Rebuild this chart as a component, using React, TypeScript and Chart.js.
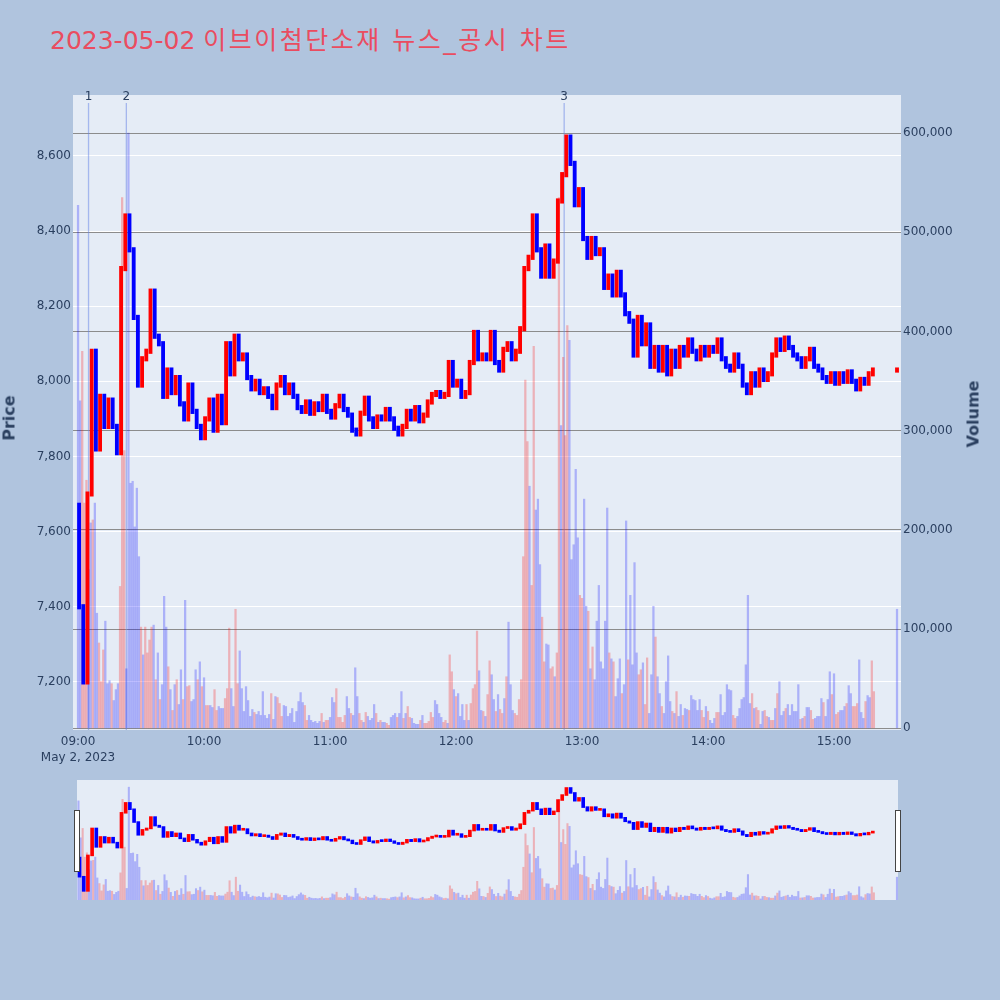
import { useEffect, useRef } from 'react'
import { Chart, registerables } from 'chart.js'

Chart.register(...registerables)

const TITLE_DATE = '2023-05-02'
const TITLE_TEXT = '이브이첨단소재 뉴스_공시 차트'
const FONT = "'DejaVu Sans', 'Noto Sans CJK KR', sans-serif"
const TEXT_COLOR = '#2a3f5f'
const UP = '#ff0000'
const DOWN = '#0000ff'

// x values are minutes after 09:00
const timeTicks = [0, 60, 120, 180, 240, 300, 360]
const timeLabels = ['09:00', '10:00', '11:00', '12:00', '13:00', '14:00', '15:00']
const dateLabel = 'May 2, 2023'
const priceTicks = [7200, 7400, 7600, 7800, 8000, 8200, 8400, 8600]
const volumeTicks = [0, 100000, 200000, 300000, 400000, 500000, 600000]

// news / disclosure markers
const newsMinutes = [5, 23, 231.5]
const newsLabels = ['1', '2', '3']

// price, one value per 2 minutes (close), starting from the first open
const firstOpen = 7670
const closes = [
  7400, 7200, 7700, 8080, 7820, 7960, 7880, 7950, 7880, 7810,
  8300, 8440, 8350, 8170, 7990, 8060, 8080, 8240, 8120, 8100,
  7960, 8030, 7970, 8010, 7940, 7900, 7990, 7920, 7880, 7850,
  7900, 7950, 7870, 7960, 7890, 8100, 8020, 8120, 8060, 8070,
  8010, 7980, 8000, 7970, 7980, 7960, 7930, 7990, 8010, 7970,
  7990, 7960, 7930, 7920, 7945, 7915, 7940, 7925, 7960, 7920,
  7905, 7935, 7960, 7925, 7910, 7870, 7860, 7915, 7955, 7900,
  7880, 7905, 7900, 7925, 7900, 7875, 7860, 7880, 7920, 7900,
  7930, 7895, 7910, 7945, 7965, 7970, 7960, 7965, 8050, 7990,
  8000, 7960, 7970, 8050, 8130, 8060, 8070, 8060, 8130, 8050,
  8030, 8085, 8100, 8060, 8080, 8140, 8300, 8330, 8440, 8350,
  8280, 8360, 8280, 8320, 8480, 8550, 8650, 8580, 8470, 8510,
  8380, 8330, 8380, 8340, 8350, 8250, 8280, 8230, 8290, 8230,
  8180, 8160, 8070, 8170, 8100, 8150, 8040, 8090, 8030, 8090,
  8020, 8080, 8040, 8090, 8070, 8110, 8080, 8060, 8090, 8070,
  8090, 8080, 8110, 8060, 8040, 8030, 8070, 8040, 7990, 7970,
  8020, 7990, 8030, 8005, 8020, 8070, 8110, 8085, 8115, 8090,
  8070, 8060, 8040, 8060, 8085, 8040, 8030, 8010, 8000, 8020,
  7995, 8020, 8000, 8025, 8000, 7980, 8005, 7995, 8020, 8030,
]
const auctionMinute = 390
const auctionPrice = 8030

// volume per minute, in thousands of shares
const volumesK = [
  527, 330, 380, 227, 250, 160, 207, 210, 227, 116,
  86, 47, 79, 108, 45, 48, 45, 28, 39, 45,
  143, 535, 280, 60, 600, 247, 249, 203, 242, 173,
  102, 74, 102, 76, 89, 102, 104, 49, 76, 29,
  44, 133, 102, 62, 39, 18, 44, 49, 24, 59,
  29, 129, 42, 43, 27, 29, 59, 49, 67, 42,
  51, 23, 23, 23, 21, 39, 18, 22, 20, 20,
  30, 40, 101, 40, 22, 120, 45, 78, 40, 17,
  42, 28, 12, 19, 16, 14, 17, 13, 37, 13,
  10, 14, 35, 9, 32, 31, 25, 12, 23, 22,
  12, 15, 20, 6, 17, 27, 36, 26, 23, 8,
  13, 8, 6, 7, 5, 7, 15, 6, 8, 8,
  11, 31, 26, 40, 11, 11, 6, 13, 32, 20,
  15, 13, 61, 32, 15, 8, 6, 16, 12, 8,
  10, 24, 15, 6, 8, 6, 6, 5, 3, 11,
  13, 15, 11, 15, 37, 10, 15, 22, 11, 10,
  5, 4, 4, 8, 13, 5, 5, 7, 16, 11,
  28, 24, 15, 11, 6, 8, 5, 74, 57, 39,
  32, 35, 12, 24, 8, 24, 8, 25, 40, 44,
  98, 58, 18, 17, 12, 34, 68, 54, 29, 17,
  34, 19, 15, 30, 52, 107, 44, 18, 15, 13,
  29, 49, 173, 351, 289, 244, 144, 385, 220, 231,
  165, 112, 67, 85, 84, 60, 62, 52, 76, 535,
  305, 374, 295, 406, 391, 170, 185, 261, 192, 134,
  131, 231, 123, 118, 60, 82, 49, 108, 144, 67,
  60, 108, 222, 76, 70, 67, 32, 50, 70, 35,
  44, 209, 69, 134, 64, 167, 76, 54, 59, 66,
  24, 71, 15, 54, 123, 92, 52, 35, 22, 15,
  47, 73, 27, 17, 15, 37, 12, 24, 13, 20,
  19, 18, 33, 29, 28, 18, 29, 18, 11, 22,
  17, 8, 5, 10, 16, 16, 34, 13, 16, 44,
  39, 38, 13, 10, 12, 20, 29, 31, 64, 134,
  25, 35, 20, 21, 18, 4, 17, 18, 12, 11,
  8, 8, 20, 35, 47, 13, 17, 20, 24, 13,
  24, 17, 17, 44, 9, 10, 12, 21, 21, 18,
  9, 10, 12, 12, 30, 26, 12, 29, 57, 34,
  55, 14, 16, 18, 18, 22, 25, 43, 35, 22,
  22, 25, 69, 16, 10, 27, 33, 31, 68, 37,
]
// u = up minute, d = down minute
const volumeDirs =
  'dduuuddudd' + 'uuuddduddd' + 'uuuddddddd' + 'uduuuududu' + 'dddudududd' +
  'uduudddudu' + 'duudduuddd' + 'uuudduuddd' + 'dddduddddd' + 'ddudduuudd' +
  'dddddddduu' + 'dddddduduu' + 'ddduuuuudd' + 'uddduududd' + 'ddududduud' +
  'ddudduduud' + 'ddduduuuuu' + 'dddduuduud' + 'udddduduuu' + 'udduduuddu' +
  'duududdduu' + 'uuuuuduudd' + 'duudduuduu' + 'duuudddddu' + 'uddududddd' +
  'dddududddu' + 'ddudddduud' + 'uuddduddud' + 'dddududdud' + 'duddddduud' +
  'uddduudddd' + 'dduudddddd' + 'duduudduud' + 'uududddudd' + 'ddddududdu' +
  'uddddudddu' + 'duuddduddu' + 'uudddudduu'
const auctionVolumeK = 120

const BODY_PAD = 6

function candleRows() {
  const rows: { x: number; o: number; c: number }[] = []
  let prev = firstOpen
  closes.forEach((c, i) => {
    rows.push({ x: i * 2 + 0.5, o: prev, c })
    prev = c
  })
  rows.push({ x: auctionMinute, o: auctionPrice, c: auctionPrice })
  return rows
}

function volumeRows() {
  const rows = volumesK.map((v, i) => ({ x: i, y: v * 1000, up: volumeDirs[i] === 'u' }))
  rows.push({ x: auctionMinute, y: auctionVolumeK * 1000, up: false })
  return rows
}

const plotBg = {
  id: 'plotBg',
  beforeDraw(chart: Chart) {
    const { ctx, chartArea } = chart
    ctx.save()
    ctx.fillStyle = '#e5ecf6'
    ctx.fillRect(chartArea.left, chartArea.top, chartArea.right - chartArea.left, chartArea.bottom - chartArea.top)
    ctx.restore()
  },
}

const newsLines = {
  id: 'newsLines',
  beforeDatasetsDraw(chart: Chart) {
    const { ctx, chartArea, scales } = chart
    ctx.save()
    ctx.strokeStyle = 'rgba(100,130,230,0.5)'
    ctx.lineWidth = 1.3
    newsMinutes.forEach((m) => {
      const px = scales.x.getPixelForValue(m)
      ctx.beginPath()
      ctx.moveTo(px, chartArea.top + 8)
      ctx.lineTo(px, chartArea.bottom)
      ctx.stroke()
    })
    ctx.restore()
  },
  afterDatasetsDraw(chart: Chart) {
    const { ctx, chartArea, scales } = chart
    ctx.save()
    ctx.fillStyle = TEXT_COLOR
    ctx.font = `12px ${FONT}`
    ctx.textAlign = 'center'
    ctx.textBaseline = 'middle'
    newsMinutes.forEach((m, i) => {
      ctx.fillText(newsLabels[i], scales.x.getPixelForValue(m), chartArea.top + 2)
    })
    ctx.restore()
  },
}

function makeDatasets(candleWidth: number, volWidth: number, minLen: number) {
  const candles = candleRows()
  const vols = volumeRows()
  return [
    {
      label: 'Price',
      data: candles.map((r) => ({ x: r.x, y: [Math.min(r.o, r.c) - BODY_PAD, Math.max(r.o, r.c) + BODY_PAD] })),
      backgroundColor: candles.map((r) => (r.c >= r.o ? UP : DOWN)),
      barThickness: candleWidth,
      minBarLength: minLen,
      grouped: false,
      yAxisID: 'y',
      order: 1,
    },
    {
      label: 'Volume',
      data: vols.map((r) => ({ x: r.x, y: r.y })),
      backgroundColor: vols.map((r) => (r.up ? 'rgba(255,0,0,0.25)' : 'rgba(0,0,255,0.25)')),
      barThickness: volWidth,
      grouped: false,
      yAxisID: 'y1',
      order: 2,
    },
  ]
}

const tickFont = { family: FONT, size: 12, lineHeight: 1.3 }

export default function App() {
  const mainRef = useRef<HTMLCanvasElement>(null)
  const sliderRef = useRef<HTMLCanvasElement>(null)

  useEffect(() => {
    if (!mainRef.current || !sliderRef.current) return

    const main = new Chart(mainRef.current, {
      type: 'bar',
      data: { datasets: makeDatasets(3.2, 1.6, 2) as any },
      options: {
        responsive: false,
        animation: false,
        devicePixelRatio: 1,
        layout: { padding: { top: 95, left: 0, right: 0, bottom: 0 } },
        plugins: { legend: { display: false }, tooltip: { enabled: false } },
        scales: {
          x: {
            type: 'linear',
            min: -2.4,
            max: 391.9,
            offset: false,
            grid: { display: false, drawTicks: false },
            border: { display: false },
            ticks: {
              color: TEXT_COLOR,
              font: tickFont,
              padding: 4,
              maxRotation: 0,
              callback: (v: any) => {
                const i = timeTicks.indexOf(Number(v))
                if (i < 0) return ''
                return i === 0 ? [timeLabels[i], dateLabel] : timeLabels[i]
              },
            },
            afterBuildTicks: (s: any) => {
              s.ticks = timeTicks.map((v) => ({ value: v }))
            },
            afterFit: (s: any) => {
              s.height = 50
            },
          },
          y: {
            type: 'linear',
            position: 'left',
            min: 7072,
            max: 8762,
            grid: { color: '#ffffff', lineWidth: 1, drawTicks: false },
            border: { display: false },
            ticks: {
              color: TEXT_COLOR,
              font: tickFont,
              padding: 2,
              callback: (v: any) => Number(v).toLocaleString('en-US'),
            },
            afterBuildTicks: (s: any) => {
              s.ticks = priceTicks.map((v) => ({ value: v }))
            },
            afterFit: (s: any) => {
              s.width = 73
            },
          },
          y1: {
            type: 'linear',
            position: 'right',
            min: -1700,
            max: 638300,
            grid: { color: '#8c8c8c', lineWidth: 1, drawTicks: false },
            border: { display: false },
            ticks: {
              color: TEXT_COLOR,
              font: tickFont,
              padding: 2,
              callback: (v: any) => Number(v).toLocaleString('en-US'),
            },
            afterBuildTicks: (s: any) => {
              s.ticks = volumeTicks.map((v) => ({ value: v }))
            },
            afterFit: (s: any) => {
              s.width = 99
            },
          },
        },
      },
      plugins: [plotBg, newsLines],
    })

    const slider = new Chart(sliderRef.current, {
      type: 'bar',
      data: { datasets: makeDatasets(3, 1.4, 2) as any },
      options: {
        responsive: false,
        animation: false,
        devicePixelRatio: 1,
        layout: { padding: 0 },
        plugins: { legend: { display: false }, tooltip: { enabled: false } },
        scales: {
          x: { type: 'linear', min: -0.7, max: 390.5, offset: false, display: false },
          y: { type: 'linear', min: 7072, max: 8762, display: false },
          y1: { type: 'linear', min: -1700, max: 638300, display: false },
        },
      },
      plugins: [plotBg],
    })

    return () => {
      main.destroy()
      slider.destroy()
    }
  }, [])

  const handle = {
    position: 'absolute' as const,
    top: 810,
    width: 4,
    height: 60,
    background: '#ffffff',
    border: '1px solid #444444',
  }

  const axisTitle = {
    position: 'absolute' as const,
    transform: 'translate(-50%, -50%) rotate(-90deg)',
    fontWeight: 'bold' as const,
    fontSize: 16,
    color: TEXT_COLOR,
    whiteSpace: 'nowrap' as const,
  }

  return (
    <div
      style={{
        position: 'absolute',
        left: 0,
        top: 0,
        width: 1000,
        height: 1000,
        background: '#b0c4de',
        overflow: 'hidden',
        fontFamily: FONT,
      }}
    >
      <div
        style={{
          position: 'absolute',
          left: 50,
          top: 26,
          fontSize: 25,
          lineHeight: '30px',
          color: '#ea4c60',
          whiteSpace: 'nowrap',
        }}
      >
        {TITLE_DATE} <span style={{ letterSpacing: 2.5 }}>{TITLE_TEXT}</span>
      </div>
      <canvas ref={mainRef} width={1000} height={780} style={{ position: 'absolute', left: 0, top: 0 }} />
      <canvas ref={sliderRef} width={821} height={120} style={{ position: 'absolute', left: 77, top: 780 }} />
      <div style={{ ...handle, left: 74 }} />
      <div style={{ ...handle, left: 895 }} />
      <div style={{ ...axisTitle, left: 9, top: 418 }}>Price</div>
      <div style={{ ...axisTitle, left: 973, top: 414 }}>Volume</div>
    </div>
  )
}
